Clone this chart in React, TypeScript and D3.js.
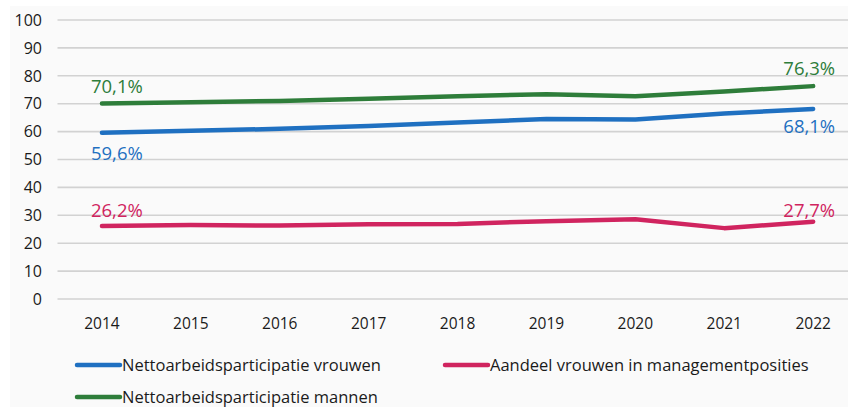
import React from "react";
import * as d3 from "d3";

const years = ["2014", "2015", "2016", "2017", "2018", "2019", "2020", "2021", "2022"];
const vrouwen = [59.6, 60.3, 61.0, 62.0, 63.3, 64.5, 64.3, 66.5, 68.1];
const mannen = [70.1, 70.5, 71.0, 71.8, 72.7, 73.4, 72.7, 74.4, 76.3];
const management = [26.2, 26.5, 26.3, 26.8, 26.9, 27.9, 28.6, 25.4, 27.7];
const yTicks = [0, 10, 20, 30, 40, 50, 60, 70, 80, 90, 100];
const seriesNames = [
  "Nettoarbeidsparticipatie vrouwen",
  "Aandeel vrouwen in managementposities",
  "Nettoarbeidsparticipatie mannen",
];

const W = 848;
const H = 407;
const FONT = "'Open Sans', sans-serif";
const COLORS = { vrouwen: "#1f70c1", management: "#d0245f", mannen: "#2e7d3a" };

export default function App() {
  const x = d3.scaleBand<string>().domain(years).range([57.5, 57.5 + 88.9 * years.length]);
  const y = d3.scaleLinear().domain([0, 100]).range([299, 20]);
  const cx = (yr: string) => (x(yr) as number) + x.bandwidth() / 2;
  const line = d3
    .line<number>()
    .x((_, i) => cx(years[i]))
    .y((d) => y(d));

  const series = [
    { key: "mannen", values: mannen, color: COLORS.mannen, firstDy: -10, lastDy: -11 },
    { key: "vrouwen", values: vrouwen, color: COLORS.vrouwen, firstDy: 27, lastDy: 24 },
    { key: "management", values: management, color: COLORS.management, firstDy: -9, lastDy: -5 },
  ];
  const fmt = (v: number) => v.toFixed(1).replace(".", ",") + "%";
  const first = years[0];
  const last = years[years.length - 1];

  const legend = [
    { name: seriesNames[0], color: COLORS.vrouwen, lx: 77, ly: 365 },
    { name: seriesNames[1], color: COLORS.management, lx: 445, ly: 365 },
    { name: seriesNames[2], color: COLORS.mannen, lx: 77, ly: 397 },
  ];

  return (
    <svg
      width={W}
      height={H}
      style={{ position: "absolute", left: 0, top: 0, background: "#ffffff" }}
      fontFamily={FONT}
    >
      <rect x={10} y={6} width={W - 10} height={H - 6} fill="#fafafa" />
      {yTicks.map((t) => (
        <g key={t}>
          <line x1={57.5} x2={W} y1={y(t)} y2={y(t)} stroke="#d2d2d2" strokeWidth={1.6} />
          <text x={42} y={y(t)} dy="0.36em" textAnchor="end" fontSize={16} fill="#1a1a1a">
            {t}
          </text>
        </g>
      ))}
      {years.map((yr) => (
        <text key={yr} x={cx(yr)} y={329} textAnchor="middle" fontSize={15.5} fill="#1a1a1a">
          {yr}
        </text>
      ))}
      {series.map((s) => (
        <g key={s.key}>
          <path
            d={line(s.values) as string}
            fill="none"
            stroke={s.color}
            strokeWidth={4.5}
            strokeLinecap="round"
            strokeLinejoin="round"
          />
          <text
            x={cx(first) - 11}
            y={y(s.values[0]) + s.firstDy}
            fontSize={18.5}
            fill={s.color}
            textAnchor="start"
          >
            {fmt(s.values[0])}
          </text>
          <text
            x={cx(last) + 22}
            y={y(s.values[s.values.length - 1]) + s.lastDy}
            fontSize={18.5}
            fill={s.color}
            textAnchor="end"
          >
            {fmt(s.values[s.values.length - 1])}
          </text>
        </g>
      ))}
      {legend.map((l) => (
        <g key={l.name}>
          <line x1={l.lx} x2={l.lx + 43} y1={l.ly} y2={l.ly} stroke={l.color} strokeWidth={4.5} strokeLinecap="round" />
          <text x={l.lx + 45} y={l.ly} dy="0.35em" fontSize={16.5} fill="#1a1a1a">
            {l.name}
          </text>
        </g>
      ))}
    </svg>
  );
}
